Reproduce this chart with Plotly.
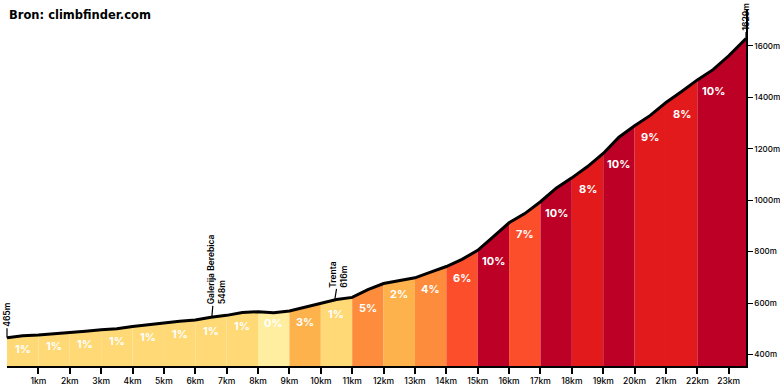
import plotly.graph_objects as go

# ---- data ----
distance_km = [0, 0.5, 1, 1.5, 2, 2.5, 3, 3.5, 4, 4.5, 5, 5.5, 6, 6.5, 7, 7.5, 8, 8.5, 9, 9.5,
               10, 10.5, 11, 11.5, 12, 12.5, 13, 13.5, 14, 14.5, 15, 15.5, 16, 16.5, 17, 17.5,
               18, 18.5, 19, 19.5, 20, 20.5, 21, 21.5, 22, 22.5, 23, 23.55]
elevation_m = [465, 473, 476, 480, 485, 490, 496, 500, 509, 516, 522, 529, 534, 545, 552, 563, 566, 562, 569, 584,
               601, 614, 622, 652, 676, 687, 698, 720, 742, 770, 805, 858, 912, 948, 994, 1047,
               1087, 1131, 1182, 1245, 1290, 1330, 1380, 1423, 1468, 1508, 1562, 1629]
segment_grades = [1, 1, 1, 1, 1, 1, 1, 1, 0, 3, 1, 5, 2, 4, 6, 10, 7, 10, 8, 10, 9, 8, 10]
km_ticks = list(range(1, 24))
km_tick_labels = [f"{k}km" for k in km_ticks]
elev_ticks = [400, 600, 800, 1000, 1200, 1400, 1600]
elev_tick_labels = [f"{v}m" for v in elev_ticks]
waypoints = [  # (km, elevation, name)
    (6.53, 548, "Galerija Berebica<br>548m"),
    (10.45, 616, "Trenta<br>616m"),
]
start_label = "465m"
summit_label = "1629m"
source_text = "Bron: climbfinder.com"


def grade_color(g):
    if g <= 0:
        return "#ffeda0"
    if g <= 1:
        return "#fed976"
    if g <= 3:
        return "#feb24c"
    if g <= 5:
        return "#fd8d3c"
    if g <= 7:
        return "#fc4e2a"
    if g <= 9:
        return "#e31a1c"
    return "#bd0026"


fig = go.Figure()
end_km = distance_km[-1]
n_seg = len(segment_grades)
for i, g in enumerate(segment_grades):
    lo = i
    hi = end_km if i == n_seg - 1 else i + 1
    xs = [d for d in distance_km if lo <= d <= hi]
    ys = [e for d, e in zip(distance_km, elevation_m) if lo <= d <= hi]
    fig.add_trace(go.Scatter(x=xs, y=ys, mode="lines", fill="tozeroy",
                             fillcolor=grade_color(g), line=dict(width=0, color=grade_color(g)),
                             hoverinfo="skip", showlegend=False))

fig.add_trace(go.Scatter(x=distance_km, y=elevation_m, mode="lines",
                         line=dict(color="black", width=3), showlegend=False))

lab_font = dict(family="Inter, Roboto, sans-serif", size=11, color="white", weight=700)
for i, g in enumerate(segment_grades):
    start_e = elevation_m[distance_km.index(i)]
    fig.add_annotation(x=i + 0.5, y=start_e, yshift=-11, text=f"{g}%", showarrow=False,
                       font=lab_font, xanchor="center", yanchor="middle")

small_font = dict(family="Inter, Roboto, sans-serif", size=8.5, color="black", weight=600)
fig.add_annotation(x=distance_km[0], y=elevation_m[0], text=start_label, textangle=-90,
                   showarrow=True, arrowhead=0, arrowwidth=1.2, arrowcolor="black",
                   ax=0, ay=-23, font=small_font)
fig.add_annotation(x=distance_km[-1], y=elevation_m[-1], text=summit_label, textangle=-90,
                   showarrow=True, arrowhead=0, arrowwidth=1.2, arrowcolor="black",
                   ax=0, ay=-22, font=small_font)
for k, e, name in waypoints:
    fig.add_annotation(x=k, y=e, text=name, textangle=-90, align="left",
                       showarrow=True, arrowhead=0, arrowwidth=1.2, arrowcolor="black",
                       ax=4, ay=-47 if "<br>548" in name else -25, font=small_font)

fig.add_annotation(xref="paper", yref="paper", x=0, y=0.986, xanchor="left", yanchor="middle",
                   text=source_text, showarrow=False,
                   font=dict(family="DejaVu Sans", size=11.5, color="black", weight=700))

axis_font = dict(family="Inter, Roboto, sans-serif", size=8.5, color="black", weight=500)
yaxis_font = dict(family="Inter, Roboto, sans-serif", size=8, color="black", weight=500)
fig.update_xaxes(range=[0, end_km], tickmode="array", tickvals=km_ticks, ticktext=km_tick_labels,
                 showgrid=False, zeroline=False, showline=True, linecolor="black", linewidth=1.5,
                 ticks="outside", ticklen=6, tickcolor="black", tickwidth=1.5, tickfont=axis_font,
                 automargin=False)
fig.update_yaxes(range=[355, 1740], side="right", tickmode="array", tickvals=elev_ticks,
                 ticktext=elev_tick_labels, showgrid=False, zeroline=False, showline=True,
                 linecolor="black", linewidth=1.5, ticks="outside", ticklen=5, tickcolor="black",
                 tickwidth=1.2, tickfont=yaxis_font, automargin=False)
fig.update_layout(width=780, height=390, margin=dict(l=7, r=34, t=10, b=24, autoexpand=False),
                  plot_bgcolor="white", paper_bgcolor="white", showlegend=False)
fig.write_html("out.html", config={"displayModeBar": False},
               post_script="document.body.style.margin='0px';document.body.style.overflow='hidden';")
